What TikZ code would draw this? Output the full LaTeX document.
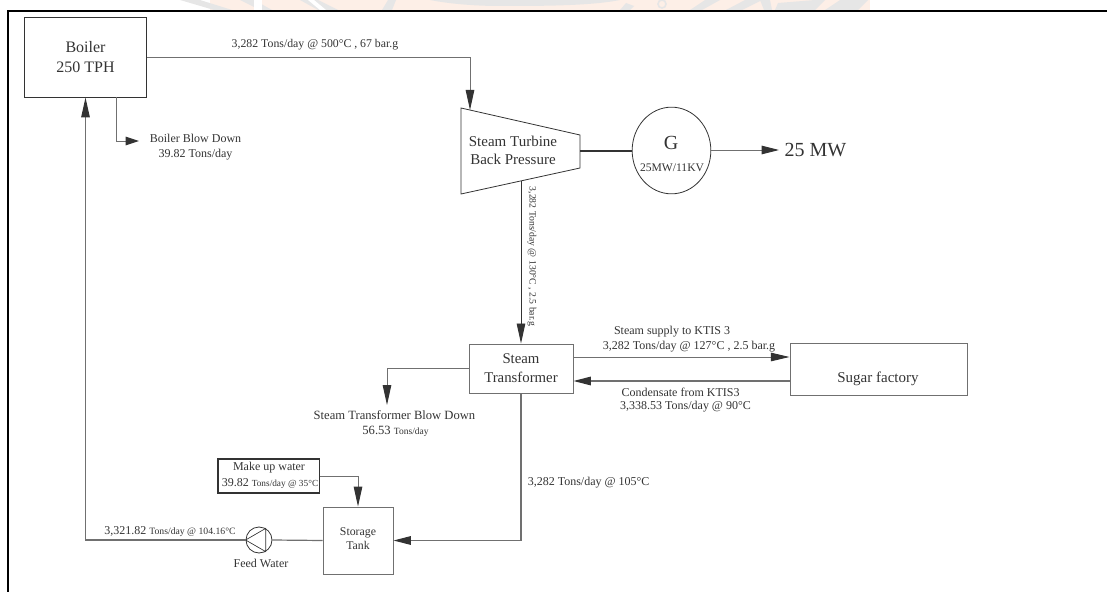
\documentclass[tikz,border=0pt]{standalone}
\usepackage{fontspec}
\setmainfont{Liberation Serif}
\usetikzlibrary{arrows.meta,shapes.geometric}
\definecolor{ink}{HTML}{333333}
\definecolor{wline}{HTML}{707070}
\definecolor{wgray}{HTML}{E6E6E6}
\definecolor{worange}{HTML}{FDEFE7}
\newcommand{\fpx}[1]{\fontsize{\fpeval{#1*0.75}}{\fpeval{#1*0.9}}\selectfont}
\tikzset{
  x=0.75pt,y=-0.75pt,
  txt/.style={inner sep=0pt,text=ink,align=center,font=\fpx{#1}},
  boxn/.style={draw=wline,line width=0.7pt,inner sep=0pt,text=ink,align=center},
  flow/.style={draw=wline,line width=0.7pt},
  dark/.style={draw=ink,line width=0.7pt},
  arr/.style={-{Triangle[length=#1,width=6.4pt,color=ink]}},
}
\begin{document}
\begin{tikzpicture}
\useasboundingbox (0,0) rectangle (1107,592);
% watermark remnants
\fill[worange] (210,0) rectangle (870,10);
\fill[wgray] (180,0) -- (200,0) -- (232,10) -- (214,10) -- cycle;
\fill[wgray] (240,0) -- (254,0) -- (272,10) -- (260,10) -- cycle;
\fill[white] (254,0) rectangle (262,10);
\fill[wgray] (300,0) -- (318,0) -- (338,10) -- (318,10) -- cycle;
\fill[white] (308,0) -- (314,0) -- (326,10) -- (320,10) -- cycle;
\fill[wgray] (382,10) -- (388,0) -- (396,0) -- (392,10) -- cycle;
\fill[wgray] (430,0) -- (620,0) .. controls (590,6) and (540,6) .. (500,6) .. controls (470,6) and (445,3) .. (430,0) -- cycle;
\fill[wgray] (620,10) -- (626,3) -- (634,6) -- (630,10) -- cycle;
\draw[wgray,line width=1.2pt] (662,4) circle (4);
\fill[wgray] (690,10) -- (705,0) -- (720,0) -- (702,10) -- cycle;
\fill[wgray] (726,10) -- (745,0) -- (762,0) -- (742,10) -- cycle;
\fill[wgray] (760,0) -- (770,0) -- (772,10) -- (764,10) -- cycle;
\fill[wgray] (775,10) -- (778,3) -- (815,0) -- (825,0) -- (815,10) -- cycle;
\fill[wgray] (825,10) -- (840,0) -- (868,0) -- (858,10) -- cycle;
% page frame
\draw[black,line width=1.3pt] (8,592) -- (8,11) -- (1107,11);
% equipment
\node[boxn,draw=ink,minimum width=91.5pt,minimum height=60pt,font=\fpx{16}] (boiler) at (85.5,57) {Boiler\\[0.6pt]250 TPH};
\draw[dark,line width=0.6pt] (461,108) -- (580,135) -- (580,168) -- (461,194) -- cycle;
\node[txt=15] (turbine) at (513,150) {Steam Turbine\\Back Pressure};
\coordinate (turbin) at (470,110);
\coordinate (turbout) at (521,181);
\coordinate (turbshaft) at (580,151);
\node[draw=ink,line width=0.6pt,ellipse,minimum width=59pt,minimum height=65pt,inner sep=0pt] (gen) at (671.5,150.5) {};
\node[txt=20] (genG) at (671,143) {G};
\node[txt=11.6] (genR) at (672,168) {25MW/11KV};
\node[txt=20] (mw) at (815.5,150) {25 MW};
\node[boxn,minimum width=78pt,minimum height=36.8pt,font=\fpx{14.8}] (trans) at (521,368.5) {Steam\\[0.9pt]Transformer};
\node[boxn,minimum width=132.8pt,minimum height=39pt] (sugar) at (878.5,369) {};
\node[txt=15] (sugart) at (878,379) {Sugar factory};
\node[boxn,minimum width=52.5pt,minimum height=50.2pt] (tank) at (358,540.5) {};
\node[txt=11.8] (tankt) at (358,539) {Storage\\Tank};
\node[draw=ink,line width=0.8pt,inner sep=0pt,minimum width=75.8pt,minimum height=25.5pt] (makeup) at (268.5,476) {};
\node[txt=12] (makea) at (269,468) {Make up water};
\node[inner sep=0pt,text=ink,font=\fpx{12}] (makeb) at (270,484) {39.82 {\fpx{9.3}Tons/day @ 35°C}};
\node[draw=ink,line width=0.6pt,circle,minimum size=19.5pt,inner sep=0pt] (pump) at (259,540) {};
\draw[dark,line width=0.5pt] (pump.west) -- (pump.60) -- (pump.-60) -- cycle;
% connectors
\coordinate (blowup) at (116,97);
\coordinate (blowend) at (139,141);
\draw[flow,arr=15pt] (boiler.east) -| (turbin);
\draw[flow,arr=10pt] (blowup) |- (blowend);
\draw[dark,line width=0.8pt] (turbshaft) -- (gen.west |- turbshaft);
\coordinate (mwend) at (779,150);
\draw[flow,arr=13pt] (gen.east |- mwend) -- (mwend);
\draw[dark,arr=15pt] (turbout) -- (trans.north);
\coordinate (steamfrom) at (trans.east |- 0,357);
\coordinate (steamto) at (sugar.west |- 0,357);
\draw[flow,arr=14pt] (steamfrom) -- (steamto);
\coordinate (condfrom) at (sugar.west |- 0,381);
\coordinate (condto) at (trans.east |- 0,381);
\draw[dark,line width=0.9pt,draw=wline,arr=13pt] (condfrom) -- (condto);
\coordinate (tbdfrom) at (trans.west |- 0,368);
\coordinate (tbdto) at (387,405);
\draw[flow,arr=15pt] (tbdfrom) -| (tbdto);
\draw[dark,line width=0.9pt,draw=wline,arr=13pt] (trans.south) |- (tank.east);
\coordinate (mufrom) at (makeup.east |- 0,476);
\draw[flow,arr=15pt] (mufrom) -| (tank.north);
\draw[flow,line width=0.9pt] (tank.west) -- (pump.east);
\draw[flow,line width=0.9pt,arr=15pt] (pump.west) -- (pump.west -| boiler.south) -- (boiler.south);
% labels
\node[txt=11.8] (l1) at (315,44.5) {3,282 Tons/day @ 500°C , 67 bar.g};
\node[txt=12] (l2) at (195.5,147) {Boiler Blow Down\\[0.4pt]39.82 Tons/day};
\node[txt=9.7,rotate=-90] (l3) at (532,256.5) {3,282 Tons/day @ 130°C , 2.5 bar.g};
\node[txt=12] (l4) at (672,332) {Steam supply  to KTIS 3};
\node[txt=12] (l5) at (689,347) {3,282 Tons/day  @ 127°C , 2.5 bar.g};
\node[txt=12] (l6) at (680.5,392) {Condensate from KTIS3};
\node[txt=12] (l7) at (685.5,407) {3,338.53 Tons/day @ 90°C};
\node[txt=12.6] (l8) at (394.5,415) {Steam Transformer Blow Down};
\node[inner sep=0pt,text=ink,font=\fpx{12.6}] (l9) at (395.5,431) {56.53 {\fpx{9.5}Tons/day}};
\node[inner sep=0pt,text=ink,font=\fpx{12},anchor=west] (l10) at (527.5,483) {3,282 Tons/day @ 105°C};
\node[inner sep=0pt,text=ink,font=\fpx{12}] (l11) at (170,532) {3,321.82 {\fpx{9.7}Tons/day @ 104.16°C}};
\node[txt=12] (l12) at (261,563) {Feed Water};
\end{tikzpicture}
\end{document}
